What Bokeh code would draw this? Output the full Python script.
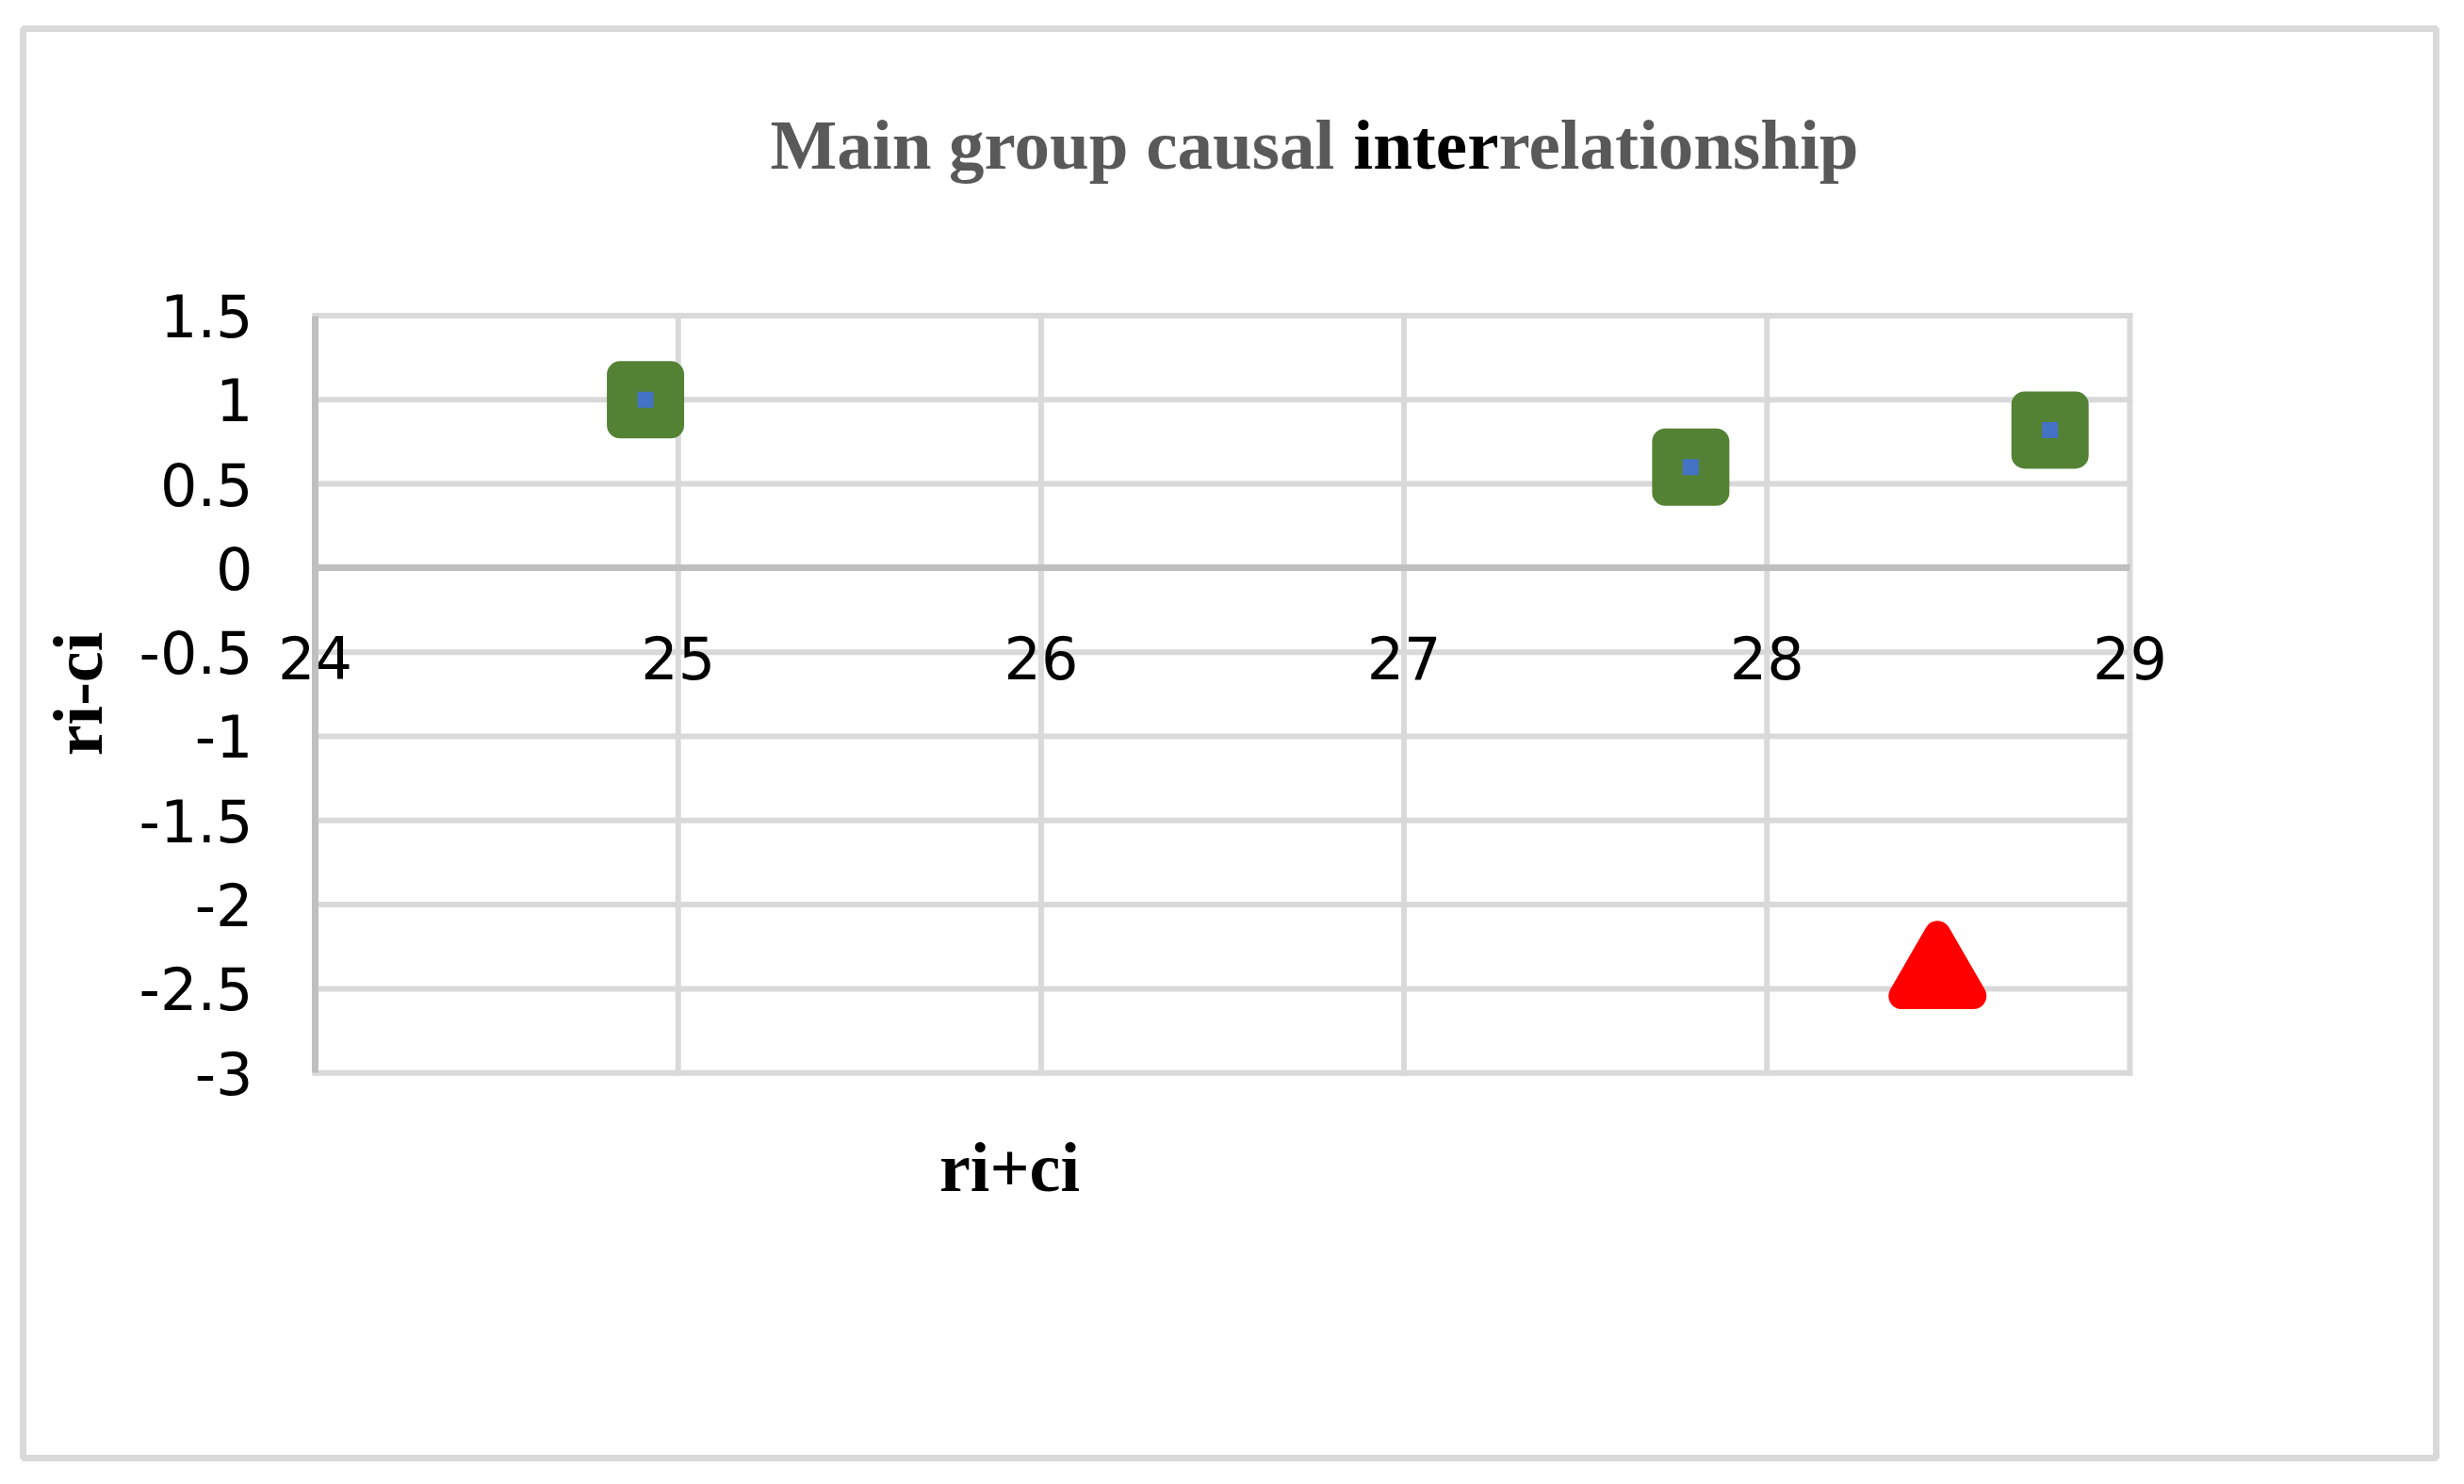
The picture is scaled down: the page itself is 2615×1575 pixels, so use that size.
import math
from bokeh.plotting import figure
from bokeh.models import Label, FixedTicker, Range1d, LinearAxis
from bokeh.embed import file_html
from bokeh.resources import INLINE

# ---- data ----
cause_x = [24.91, 27.79, 28.78]
cause_y = [1.0, 0.60, 0.82]
effect_x = [28.47]
effect_y = [-2.42]

x_ticks = [24, 25, 26, 27, 28, 29]
x_tick_labels = ["24", "25", "26", "27", "28", "29"]
y_ticks = [1.5, 1, 0.5, 0, -0.5, -1, -1.5, -2, -2.5, -3]
y_tick_labels = ["1.5", "1", "0.5", "0", "-0.5", "-1", "-1.5", "-2", "-2.5", "-3"]

title_parts = ["Main group causal ", "inter", "relationship"]
title_colors = ["#595959", "#000000", "#595959"]
x_title = "ri+ci"
y_title = "ri-ci"

GREEN = "#548235"
BLUE = "#4472c4"
RED = "#ff0000"
GRID = "#d9d9d9"
AXIS = "#bfbfbf"

# frame = whole chart box; data ranges extended so the plot area sits inside
FL, FT, FW, FH = 24, 30, 2561, 1517
W, H = 2600, 1565
p = figure(width=W, height=H,
           x_range=Range1d(23.195, 29.844), y_range=Range1d(-5.289, 3.205),
           x_axis_location=None, y_axis_location=None,
           output_backend="svg", toolbar_location=None,
           min_border_left=FL, min_border_right=W - FL - FW,
           min_border_top=FT, min_border_bottom=H - FT - FH)
p.outline_line_color = GRID
p.outline_line_width = 7
p.background_fill_color = "white"
p.border_fill_color = "white"
for g in p.grid:
    g.visible = False

xmin, xmax = x_ticks[0], x_ticks[-1]
ymin, ymax = min(y_ticks), max(y_ticks)

# gridlines from tick arrays
p.segment(x0=x_ticks, y0=[ymin] * len(x_ticks), x1=x_ticks, y1=[ymax] * len(x_ticks),
          line_color=GRID, line_width=6, line_cap="square", level="underlay")
p.segment(x0=[xmin] * len(y_ticks), y0=y_ticks, x1=[xmax] * len(y_ticks), y1=y_ticks,
          line_color=GRID, line_width=6, line_cap="square", level="underlay")

# axes crossing at (24, 0)
xax = LinearAxis(ticker=FixedTicker(ticks=x_ticks), fixed_location=0, bounds=(xmin, xmax))
xax.major_label_overrides = {t: l for t, l in zip(x_ticks, x_tick_labels)}
yax = LinearAxis(ticker=FixedTicker(ticks=y_ticks), fixed_location=xmin, bounds=(ymin, ymax))
yax.major_label_overrides = {t: l for t, l in zip(y_ticks, y_tick_labels)}
for ax, standoff in ((xax, 66), (yax, 60)):
    ax.axis_line_color = AXIS
    ax.axis_line_width = 7
    ax.major_tick_line_color = None
    ax.minor_tick_line_color = None
    ax.major_label_text_font = "DejaVu Sans"
    ax.major_label_text_font_size = "62px"
    ax.major_label_text_color = "black"
    ax.major_label_standoff = standoff
p.add_layout(xax, "below")
p.add_layout(yax, "left")

# markers
p.scatter(x=cause_x, y=cause_y, marker="square", size=54,
          fill_color=GREEN, line_color=GREEN, line_width=28, line_join="round")
p.scatter(x=cause_x, y=cause_y, marker="square", size=17,
          fill_color=BLUE, line_color=None)
p.scatter(x=effect_x, y=effect_y, marker="triangle", size=76,
          fill_color=RED, line_color=RED, line_width=28, line_join="round")

# title in three coloured pieces (screen units relative to frame bottom-left)
fs_title = 75
adv = [8251, 2055, 5112]  # Times bold advance widths (1/1000 em)
x0 = 817 - FL
for txt, col, a in zip(title_parts, title_colors, adv):
    p.add_layout(Label(x=x0, y=FT + FH - 153, x_units="screen", y_units="screen", text=txt,
                       text_font="Liberation Serif", text_font_style="bold",
                       text_font_size=f"{fs_title}px", text_color=col,
                       text_align="left", text_baseline="alphabetic"))
    x0 += a / 1000 * fs_title

# axis titles
p.add_layout(Label(x=1071 - FL, y=FT + FH - 1238, x_units="screen", y_units="screen",
                   text=x_title, text_font="Liberation Serif", text_font_style="bold",
                   text_font_size="74px", text_color="black",
                   text_align="center", text_baseline="middle"))
p.add_layout(Label(x=82 - FL, y=FT + FH - 736, x_units="screen", y_units="screen",
                   text=y_title, angle=math.pi / 2,
                   text_font="Liberation Serif", text_font_style="bold",
                   text_font_size="74px", text_color="black",
                   text_align="center", text_baseline="middle"))

open("out.html", "w").write(file_html(p, INLINE))
